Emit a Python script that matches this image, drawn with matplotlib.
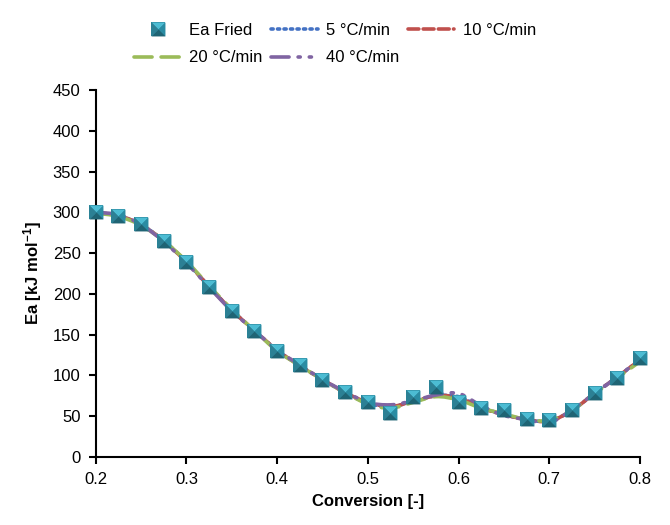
import numpy as np
import matplotlib
matplotlib.use('Agg')
import matplotlib.pyplot as plt
from matplotlib.path import Path
from matplotlib.patches import PathPatch
from matplotlib.lines import Line2D
from matplotlib.legend_handler import HandlerTuple

plt.rcParams['font.family'] = ['Liberation Sans', 'DejaVu Sans']
plt.rcParams['mathtext.fontset'] = 'custom'
plt.rcParams['mathtext.rm'] = 'Liberation Sans'
plt.rcParams['mathtext.bf'] = 'Liberation Sans:bold'

# conversion values
conv = [0.2, 0.225, 0.25, 0.275, 0.3, 0.325, 0.35, 0.375, 0.4, 0.425, 0.45, 0.475,
        0.5, 0.525, 0.55, 0.575, 0.6, 0.625, 0.65, 0.675, 0.7, 0.725, 0.75, 0.775, 0.8]

# Ea from Friedman method
ea_fried = [300, 295, 286, 265, 239, 208, 179, 154, 130, 113, 94, 80,
            67, 54, 74, 86, 68, 60, 58, 47, 45, 58, 79, 97, 121]

# Ea per heating rate
ea_5 = [300, 296, 285, 265, 239, 209, 180, 155, 131, 112, 95, 79,
        66, 62, 68, 75, 74, 61, 52, 46, 44, 57, 78, 98, 119]
ea_10 = [300, 296, 285, 265, 239, 209, 180, 155, 131, 112, 95, 79,
         67, 62, 68, 75, 73, 60, 52, 46, 44, 57, 78, 98, 119]
ea_20 = [299, 295, 284, 265, 240, 210, 181, 155, 130, 112, 95, 79,
         65, 60, 67, 74, 70, 60, 53, 46, 45, 57, 78, 97, 117]
ea_40 = [300, 297, 285, 264, 238, 208, 179, 155, 131, 113, 95, 80,
         67, 64, 69, 76, 78, 63, 51, 46, 42, 58, 78, 98, 120]

labels = ['5 °C/min', '10 °C/min', '20 °C/min', '40 °C/min']
colors = ['#4472c4', '#c0504d', '#9bbb59', '#8064a2']
dashes = [(0, (0.6, 1.2)), (0, (3, 1.2)), (0, (5, 2.5)), (0, (5, 2.5, 0.6, 2.5, 0.6, 2.5))]


def smooth_path(x, y):
    # excel-like smoothed line: cubic bezier through every point
    p = np.column_stack([x, y]).astype(float)
    n = len(p)
    verts = [p[0]]
    codes = [Path.MOVETO]
    for i in range(n - 1):
        p0 = p[i - 1] if i > 0 else p[i]
        p3 = p[i + 2] if i + 2 < n else p[i + 1]
        c1 = p[i] + (p[i + 1] - p0) / 6
        c2 = p[i + 1] - (p3 - p[i]) / 6
        verts += [c1, c2, p[i + 1]]
        codes += [Path.CURVE4] * 3
    return Path(verts, codes)


fig = plt.figure(figsize=(6.7, 5.25), dpi=100)
ax = fig.add_axes([0.143, 0.1295, 0.812, 0.699])

handles = []
for vals, lab, c, ls in zip([ea_5, ea_10, ea_20, ea_40], labels, colors, dashes):
    patch = PathPatch(smooth_path(conv, vals), fill=False, edgecolor=c, lw=2.6,
                      linestyle=ls, capstyle='round', zorder=2)
    ax.add_patch(patch)
    handles.append(Line2D([], [], color=c, lw=2.6, linestyle=ls, dash_capstyle='round'))

# pyramid style square markers
ms = 10
ax.plot(conv, ea_fried, linestyle='none', marker='s', markersize=ms,
        markerfacecolor='#2a8499', markeredgewidth=0, zorder=3, clip_on=False)
mk = [Line2D([], [], linestyle='none', marker='s', markersize=ms,
             markerfacecolor='#2a8499', markeredgewidth=0)]
tri = {'top': [(0, 0), (-1, 1), (1, 1)],
       'right': [(0, 0), (1, 1), (1, -1)],
       'bottom': [(0, 0), (1, -1), (-1, -1)],
       'left': [(0, 0), (-1, -1), (-1, 1)]}
tri_col = {'top': '#4cbcd3', 'right': '#2a8ca3', 'bottom': '#1f6474', 'left': '#2c8094'}
for k in ['top', 'right', 'bottom', 'left']:
    ax.plot(conv, ea_fried, linestyle='none', marker=tri[k], markersize=ms,
            markerfacecolor=tri_col[k], markeredgewidth=0, zorder=3, clip_on=False)
    mk.append(Line2D([], [], linestyle='none', marker=tri[k], markersize=ms,
                     markerfacecolor=tri_col[k], markeredgewidth=0))

ax.set_xlim(0.2, 0.8)
ax.set_ylim(0, 450)
ax.set_xticks(np.arange(0.2, 0.81, 0.1))
ax.set_xticklabels(['0.2', '0.3', '0.4', '0.5', '0.6', '0.7', '0.8'])
ax.set_yticks(np.arange(0, 451, 50))
ax.tick_params(direction='out', length=5, width=1.5, labelsize=12, colors='black', pad=6)
ax.spines['top'].set_visible(False)
ax.spines['right'].set_visible(False)
ax.spines['left'].set_linewidth(1.5)
ax.spines['bottom'].set_linewidth(1.5)

ax.set_xlabel('Conversion [-]', fontsize=12, fontweight='bold', labelpad=5)
ax.set_ylabel(r'Ea [kJ mol$\mathbf{^{-1}}$]', fontsize=12, fontweight='bold', labelpad=6)

# row-wise order: Ea Fried, 5, 10 / 20, 40
all_h = [tuple(mk)] + handles
all_l = ['Ea Fried'] + labels
order = [0, 3, 1, 4, 2]
fig.legend([all_h[i] for i in order], [all_l[i] for i in order], ncol=3,
           loc='center', bbox_to_anchor=(0.5, 0.916), frameon=False, fontsize=12,
           handlelength=2.8, columnspacing=0.5, handletextpad=0.5, labelspacing=0.75,
           handler_map={tuple: HandlerTuple(ndivide=1, pad=0)})

fig.savefig('out.png', dpi=100)
